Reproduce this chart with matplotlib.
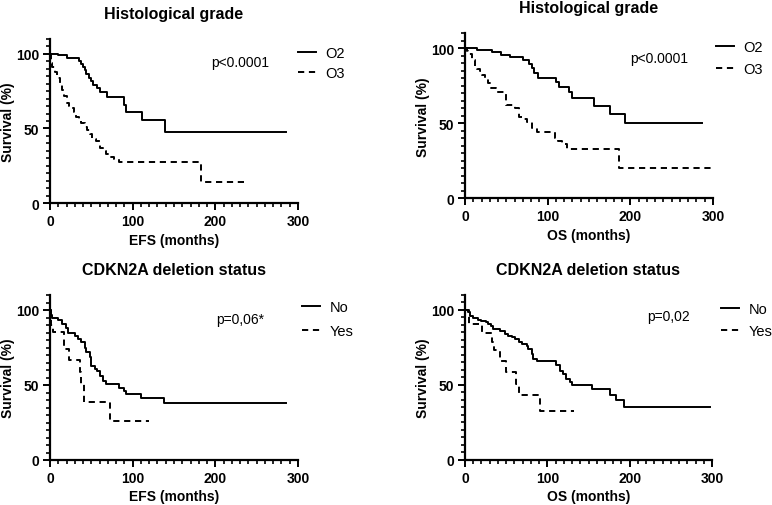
import matplotlib
matplotlib.use("Agg")
import matplotlib.pyplot as plt
from matplotlib.ticker import MultipleLocator, FixedLocator
from matplotlib.lines import Line2D

plt.rcParams['font.family'] = ['Liberation Sans', 'DejaVu Sans']

# ---------- curvas de Kaplan-Meier ----------
# grado histologico, EFS
efs_o2_t = [0, 10, 20, 35, 37, 40, 42, 44, 47, 49, 52, 57, 61, 69, 89, 92, 111, 139, 285]
efs_o2_s = [100, 99, 97.3, 95, 93, 91, 88.8, 86.5, 84, 81.5, 79, 77, 74.4, 71, 65.8, 61, 55.5, 47.9, 47.9]
efs_o3_t = [0, 1, 3, 6, 9, 12, 15, 17, 20, 23, 26, 29, 32, 35, 38, 42, 45, 48, 51, 56, 60, 64, 68, 73, 78, 83, 183, 236]
efs_o3_s = [100, 94, 91, 88, 84, 80.5, 76, 71.5, 67, 65, 63.5, 61, 58, 56, 53.5, 51, 49, 46, 42.7, 41.4, 37, 35, 33, 31, 29.5, 27.5, 14.3, 14.3]

# grado histologico, OS
os_o2_t = [0, 15, 33, 43, 54, 70, 78, 81, 84, 88, 110, 114, 126, 130, 156, 176, 193, 287]
os_o2_s = [100, 98.9, 97.6, 95.8, 94, 92.2, 89.6, 86.7, 83.6, 80.2, 77.3, 74, 70.7, 67.1, 61.8, 56.2, 50.2, 50.2]
os_o3_t = [0, 2, 4, 8, 12, 15, 18, 21, 24, 28, 32, 38, 50, 60, 65, 70, 75, 81, 87, 109, 113, 117, 123, 186, 299]
os_o3_s = [100, 98, 96, 92, 88, 86.5, 85, 82.5, 80.4, 77, 73.6, 71, 62, 60, 54.5, 53, 51, 46.6, 44, 40, 38, 36.5, 33, 20, 20]

# delecion CDKN2A, EFS
efs_no_t = [0, 1, 2, 10, 15, 19, 22, 30, 34, 38, 42, 44, 48, 50, 54, 57, 60, 64, 68, 83, 89, 92, 110, 138, 285]
efs_no_s = [100, 97, 94.5, 93.5, 91, 88, 85, 83, 80.7, 78.4, 75, 71.8, 68.4, 63, 61, 59.5, 56, 53, 50.7, 47.8, 46, 44, 41.1, 37.8, 37.8]
efs_yes_t = [0, 1, 4, 17, 23, 36, 38, 41, 72, 120]
efs_yes_s = [100, 90, 85.6, 74, 66.7, 59, 51, 38.9, 26, 26]

# delecion CDKN2A, OS
os_no_t = [0, 4, 6, 10, 16, 20, 26, 28, 32, 34, 42, 48, 52, 57, 61, 65, 69, 75, 77, 81, 83, 87, 111, 115, 119, 123, 127, 130, 154, 176, 183, 193, 297]
os_no_s = [100, 98.4, 96.2, 94.4, 93.6, 92.4, 91.8, 90.7, 89, 87.3, 86.2, 84, 82.9, 81.8, 80.7, 78.9, 77.3, 76.2, 74, 70.7, 67.3, 66, 63, 59.5, 57.3, 54, 51.8, 49.6, 47.3, 43.3, 39.7, 35.3, 35.3]
os_yes_t = [0, 5, 21, 33, 35, 43, 50, 62, 66, 91, 132]
os_yes_s = [100, 90.5, 84.3, 78.6, 73, 65.8, 58.5, 50.3, 43.2, 32.7, 32.7]

titles = ["Histological grade", "Histological grade", "CDKN2A deletion status", "CDKN2A deletion status"]
xlabels = ["EFS (months)", "OS (months)", "EFS (months)", "OS (months)"]
pvals = ["p<0.0001", "p<0.0001", "p=0,06*", "p=0,02"]
groups = [["O2", "O3"], ["O2", "O3"], ["No", "Yes"], ["No", "Yes"]]
curves = [(efs_o2_t, efs_o2_s, efs_o3_t, efs_o3_s),
          (os_o2_t, os_o2_s, os_o3_t, os_o3_s),
          (efs_no_t, efs_no_s, efs_yes_t, efs_yes_s),
          (os_no_t, os_no_s, os_yes_t, os_yes_s)]

# posiciones en pixeles (izq, y=0, der, y=110) -> fraccion de figura
W, H = 772, 506
boxes = [(50, 204.3, 298, 39.7), (465, 199.3, 713, 34.3),
         (50, 461, 298, 296), (465, 460.7, 712, 296)]
p_pos = [(0.766, 0.858), (0.782, 0.85), (0.766, 0.852), (0.823, 0.872)]
leg_x = [298, 716, 302, 721]        # inicio de la linea de leyenda (px)
leg_y = [52, 46, 306, 308]          # centro de la primera entrada (px)
leg_sp = [0.42, 0.56, 0.70, 0.56]   # separacion entre entradas

FS = 10.5
dash = (0, (3.2, 2.4))
fig = plt.figure(figsize=(W / 100, H / 100), dpi=100)

for i in range(4):
    l, b, r, t = boxes[i]
    ax = fig.add_axes([l / W, 1 - b / H, (r - l) / W, (b - t) / H])
    t1, s1, t2, s2 = curves[i]
    ax.step(t1, s1, where="post", color="black", lw=1.4, clip_on=False)
    ax.step(t2, s2, where="post", color="black", lw=1.4, ls=dash, clip_on=False)

    ax.set_xlim(0, 300)
    ax.set_ylim(0, 110)
    for sp in ("top", "right"):
        ax.spines[sp].set_visible(False)
    for sp in ("left", "bottom"):
        ax.spines[sp].set_linewidth(1.6)
    ax.xaxis.set_major_locator(FixedLocator([0, 100, 200, 300]))
    ax.xaxis.set_minor_locator(MultipleLocator(10))
    ax.yaxis.set_major_locator(FixedLocator([0, 50, 100]))
    ax.yaxis.set_minor_locator(MultipleLocator(5))
    ax.tick_params(which="major", direction="out", length=5, width=1.4, labelsize=10, pad=3)
    ax.tick_params(which="minor", direction="out", length=3, width=1.2)
    for lab in ax.get_xticklabels() + ax.get_yticklabels():
        lab.set_fontweight("bold")

    ax.set_title(titles[i], fontsize=11.5, fontweight="bold", pad=15)
    ax.set_xlabel(xlabels[i], fontsize=10, fontweight="bold", labelpad=3)
    ax.set_ylabel("Survival (%)", fontsize=10, fontweight="bold")
    ax.yaxis.set_label_coords(-0.14, 0.5)
    ax.text(p_pos[i][0], p_pos[i][1], pvals[i], transform=ax.transAxes,
            ha="center", va="center", fontsize=10)

    handles = [Line2D([], [], color="black", lw=1.4),
               Line2D([], [], color="black", lw=1.4, ls=dash)]
    ax.legend(handles, groups[i], loc="upper left",
              bbox_to_anchor=((leg_x[i] - l) / (r - l), (b - leg_y[i] + 5) / (b - t)),
              frameon=False, fontsize=FS, borderpad=0, borderaxespad=0,
              handlelength=1.2, handletextpad=0.7, labelspacing=leg_sp[i])

fig.savefig("out.png", dpi=100)
